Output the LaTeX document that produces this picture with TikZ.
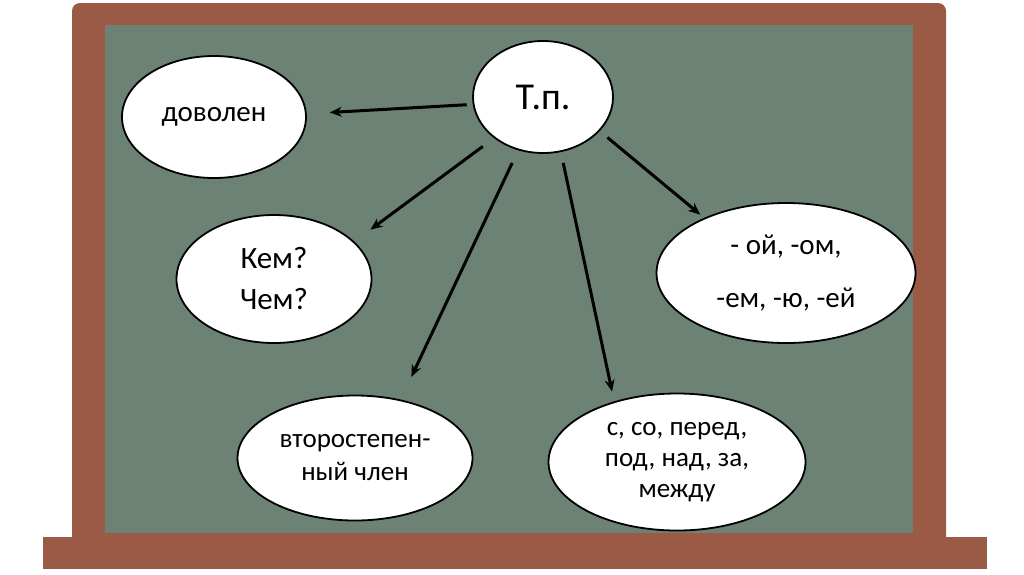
\documentclass[tikz,border=0pt]{standalone}
\usepackage{fontspec}
\setmainfont{Carlito}
\usetikzlibrary{shapes.geometric,arrows.meta}
\definecolor{doska}{RGB}{107,130,116}
\definecolor{rama}{RGB}{154,90,70}
\begin{document}
\begin{tikzpicture}[x=1pt, y=-1pt,
    bubble/.style={ellipse, draw=black, line width=1.8pt, fill=white,
      inner sep=0pt, align=center},
    arr/.style={-{Stealth[length=12pt,width=10pt]}, line width=3pt, black}]
  \useasboundingbox (0,0) rectangle (1024,574);
  % Doska
  \fill[rama] (43,537) rectangle (987,569);
  \fill[rama, rounded corners=8pt] (72,560) -- (72,3) -- (946,3) -- (946,560) -- cycle;
  \fill[doska] (105,25) rectangle (913,533);
  % Ovaly
  \node[bubble, minimum width=140pt, minimum height=112pt,
        font=\fontsize{38}{42}\selectfont] (tp) at (543,97) {Т.п.};
  \node[bubble, minimum width=184pt, minimum height=122pt,
        font=\fontsize{29}{34}\selectfont] (dov) at (214,117) {доволен};
  \node[bubble, minimum width=195pt, minimum height=128pt,
        font=\fontsize{31}{41}\selectfont] (kem) at (274,279) {Кем?\\Чем?};
  \node[bubble, minimum width=259pt, minimum height=140pt,
        font=\fontsize{29}{53}\selectfont] (oi) at (786,273) {- ой, -ом,\\-ем, -ю, -ей};
  \node[bubble, minimum width=235pt, minimum height=125pt,
        font=\fontsize{27}{33}\selectfont] (vtor) at (355,458) {второстепен-\\ный член};
  \node[bubble, minimum width=257pt, minimum height=137pt,
        font=\fontsize{27}{31}\selectfont] (pred) at (677,462) {с, со, перед,\\под, над, за,\\между};
  % Strelki
  \draw[arr, shorten <=6pt, shorten >=23pt] (tp.186) -- (dov.2);
  \draw[arr, shorten <=14pt, shorten >=20pt] (tp.220) -- (kem.25);
  \draw[arr, shorten <=14pt, shorten >=25pt] (tp.245) -- (vtor.52);
  \draw[arr, shorten <=11pt, shorten >=10pt] (tp.288) -- (pred.136);
  \draw[arr, shorten <=10pt, shorten >=5pt] (tp.329) -- (oi.146);
\end{tikzpicture}
\end{document}
